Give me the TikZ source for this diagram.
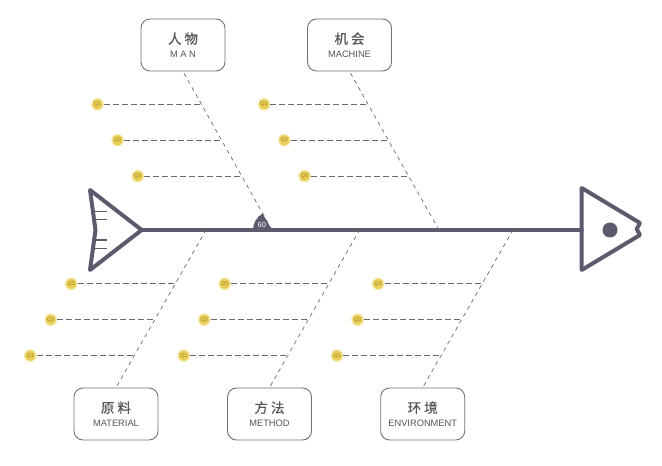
\documentclass[tikz,border=0pt]{standalone}
\usepackage{fontspec}
\setmainfont{Liberation Sans}
\newfontfamily\cjkfont[FakeBold=0.5]{Noto Sans CJK SC}
\usepackage{xcolor}
\definecolor{bone}{HTML}{5C5B6D}
\definecolor{dashgray}{HTML}{6A6A6A}
\definecolor{frame}{HTML}{727272}
\definecolor{label}{HTML}{555555}
\definecolor{qfill}{HTML}{E8CE55}
\definecolor{qtext}{HTML}{A08628}
\usetikzlibrary{positioning,calc}

\begin{document}
\begin{tikzpicture}[
  x=1pt,y=1pt,
  cause/.style={draw=frame,line width=0.9pt,rounded corners=9pt,fill=white,
    minimum width=84pt,minimum height=52pt,align=center,inner sep=2pt,
    text=label,font=\fontsize{9.3}{13.7}\selectfont},
  fish/.style={draw=bone,line width=4pt,line join=round,line cap=round},
  branch/.style={draw=dashgray,line width=0.7pt,dash pattern=on 4pt off 4pt},
  subline/.style={draw=dashgray,line width=0.7pt,dash pattern=on 6pt off 3pt},
  qdot/.style={circle,fill=qfill,draw=qfill!45,line width=1.3pt,minimum size=11.5pt,
    inner sep=0pt,text=qtext,font=\fontsize{5.5}{5.5}\selectfont}
]
\useasboundingbox (0,0) rectangle (662,466);
% tail, spine and head
\coordinate (tail) at (141.7,236);
\coordinate (head) at (581.7,236);
\draw[fish] (90,276) -- (tail) -- (90,196) -- (95.5,236) -- cycle;
\foreach \y in {254.3,246.7,226,217.7}
  \draw[bone,line width=1.1pt] (94,\y) -- (107,\y);
\draw[fish] (tail) -- (head);
\draw[fish] (head) -- (581.7,278) -- (640,243) -- (636.7,237) -- (640,231) -- (581.7,196) -- cycle;
\fill[bone] (610,236) circle (7.5);

% cause boxes
\node[cause] (man) at (183,421) {{\cjkfont\fontsize{13.5}{13.7}\selectfont 人\hspace{3pt}物}\\M\hspace{2.5pt}A\hspace{2.5pt}N};
\node[cause] (machine) at (349.5,421) {{\cjkfont\fontsize{13.5}{13.7}\selectfont 机\hspace{3pt}会}\\MACHINE};
\node[cause] (material) at (116,52) {{\cjkfont\fontsize{13.5}{13.7}\selectfont 原\hspace{3pt}料}\\MATERIAL};
\node[cause] (method) at (269.5,52) {{\cjkfont\fontsize{13.5}{13.7}\selectfont 方\hspace{3pt}法}\\METHOD};
\node[cause] (environ) at (422.7,52) {{\cjkfont\fontsize{13.5}{13.7}\selectfont 环\hspace{3pt}境}\\ENVIRONMENT};

% junctions on the spine
\coordinate (jman) at (272,236);
\coordinate (jmachine) at (439,236);
\coordinate (jmaterial) at (206,236);
\coordinate (jmethod) at (359.5,236);
\coordinate (jenviron) at (513,236);

\fill[bone] (jman) -- ++(120:19) arc[start angle=120,end angle=180,radius=19] -- cycle;
\node[text=white,font=\fontsize{7.5}{7.5}\selectfont] (angle) at ($(jman)+(152:11.5)$) {60};

% bones with their sub-causes
\foreach \c/\s/\d in {man/south/159,machine/south/159,material/north/158,method/north/158,environ/north/158} {
  \draw[branch,shorten <=2pt] (\c.\s) -- (j\c);
  \foreach \h/\q in {126/1,90/2,54/3} {
    \coordinate (\c-p\q) at ($(j\c)!\h/\d!(\c.\s)$);
    \node[qdot] (\c-q\q) at ($(\c-p\q)+(-104,0)$) {Q\q};
    \draw[subline] (\c-q\q) -- (\c-p\q);
  }
}
\end{tikzpicture}
\end{document}
